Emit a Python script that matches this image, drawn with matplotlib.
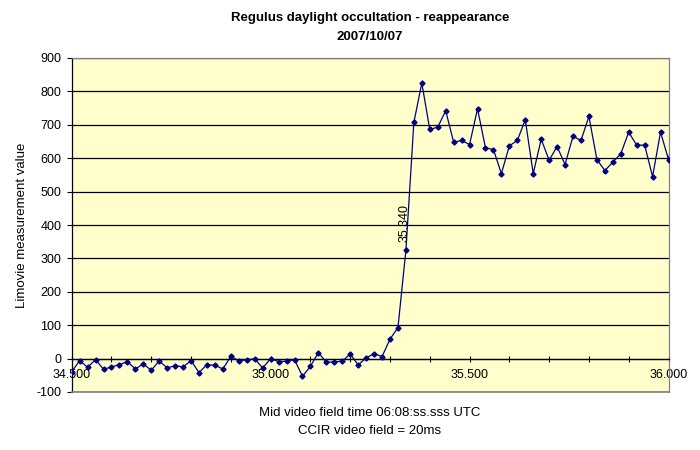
import matplotlib
matplotlib.use('Agg')
from matplotlib import pyplot as plt
from matplotlib.ticker import MultipleLocator, FormatStrFormatter

plt.rcParams['font.family'] = ['Liberation Sans', 'DejaVu Sans']
plt.rcParams['axes.unicode_minus'] = False

# mid video field times (s past 06:08), one per 20 ms CCIR field
times = [
    34.50, 34.52, 34.54, 34.56, 34.58, 34.60, 34.62, 34.64, 34.66, 34.68,
    34.70, 34.72, 34.74, 34.76, 34.78, 34.80, 34.82, 34.84, 34.86, 34.88,
    34.90, 34.92, 34.94, 34.96, 34.98, 35.00, 35.02, 35.04, 35.06, 35.08,
    35.10, 35.12, 35.14, 35.16, 35.18, 35.20, 35.22, 35.24, 35.26, 35.28,
    35.30, 35.32, 35.34, 35.36, 35.38, 35.40, 35.42, 35.44, 35.46, 35.48,
    35.50, 35.52, 35.54, 35.56, 35.58, 35.60, 35.62, 35.64, 35.66, 35.68,
    35.70, 35.72, 35.74, 35.76, 35.78, 35.80, 35.82, 35.84, 35.86, 35.88,
    35.90, 35.92, 35.94, 35.96, 35.98, 36.00, 36.02,
]

# Limovie measurement values
values = [
    -39, -6, -26, -3, -32, -25, -18, -9, -31, -16,
    -35, -7, -28, -21, -25, -6, -42, -18, -20, -31,
    7, -7, -3, -1, -28, 0, -9, -8, -3, -53,
    -23, 18, -11, -10, -8, 14, -19, 2, 15, 6,
    58, 93, 324, 707, 825, 686, 693, 742, 648, 653,
    641, 748, 631, 626, 554, 637, 653, 715, 554, 657,
    594, 635, 581, 666, 653, 725, 596, 563, 588, 613,
    678, 639, 639, 545, 678, 596, 720,
]

label_idx = 42  # reappearance point labelled on chart
W, H = 700, 450

fig = plt.figure(figsize=(7, 4.5), dpi=100)
ax = fig.add_axes([71.7 / W, 1 - 392 / H, (668.5 - 71.7) / W, (392 - 58) / H])
ax.set_facecolor('#FFFFCC')

ax.plot(times, values, color='#000080', lw=0.9, marker='D', ms=2.6,
        mfc='#000080', mec='#000080', zorder=3)

ax.set_xlim(34.5, 36.0)
ax.set_ylim(-100, 900)

ax.xaxis.set_major_locator(MultipleLocator(0.5))
ax.xaxis.set_minor_locator(MultipleLocator(0.1))
ax.xaxis.set_major_formatter(FormatStrFormatter('%.3f'))
ax.yaxis.set_major_locator(MultipleLocator(100))

ax.tick_params(axis='x', which='both', direction='inout', length=4.5,
               width=0.8, pad=5.5, labelsize=9)
ax.tick_params(axis='y', direction='out', length=3.5, width=0.8, pad=4,
               labelsize=9)

ax.spines['bottom'].set_position(('data', 0))
ax.spines['bottom'].set_color('black')
ax.spines['left'].set_color('black')
for s in ['top', 'right']:
    ax.spines[s].set_color('#808080')
for s in ax.spines.values():
    s.set_linewidth(0.9)
# gray plot-area border at the bottom
ax.plot([0, 1], [0, 0], transform=ax.transAxes, color='#808080', lw=1.2,
        clip_on=False, zorder=4)

ax.set_axisbelow(True)
ax.yaxis.grid(True, color='black', lw=0.9)
gls = ax.get_ygridlines()
gls[0].set_visible(False)
gls[-1].set_visible(False)

ax.annotate(f'{times[label_idx]:.3f}', xy=(times[label_idx], values[label_idx]),
            xytext=(-1, 6), textcoords='offset points', rotation=90,
            ha='center', va='bottom', fontsize=9)

cx = 370 / W
fig.text(cx, 1 - 18 / H, 'Regulus daylight occultation - reappearance',
         ha='center', va='center', fontweight='bold', fontsize=9.5)
fig.text(cx, 1 - 37 / H, '2007/10/07', ha='center', va='center',
         fontweight='bold', fontsize=9.5)
fig.text(cx, 1 - 413 / H, 'Mid video field time 06:08:ss.sss UTC',
         ha='center', va='center', fontsize=9.5)
fig.text(cx, 1 - 431 / H, 'CCIR video field = 20ms',
         ha='center', va='center', fontsize=9.5)
fig.text(22 / W, 1 - 225 / H, 'Limovie measurement value', rotation=90,
         ha='center', va='center', fontsize=9.5)

fig.savefig('out.png', dpi=100)
